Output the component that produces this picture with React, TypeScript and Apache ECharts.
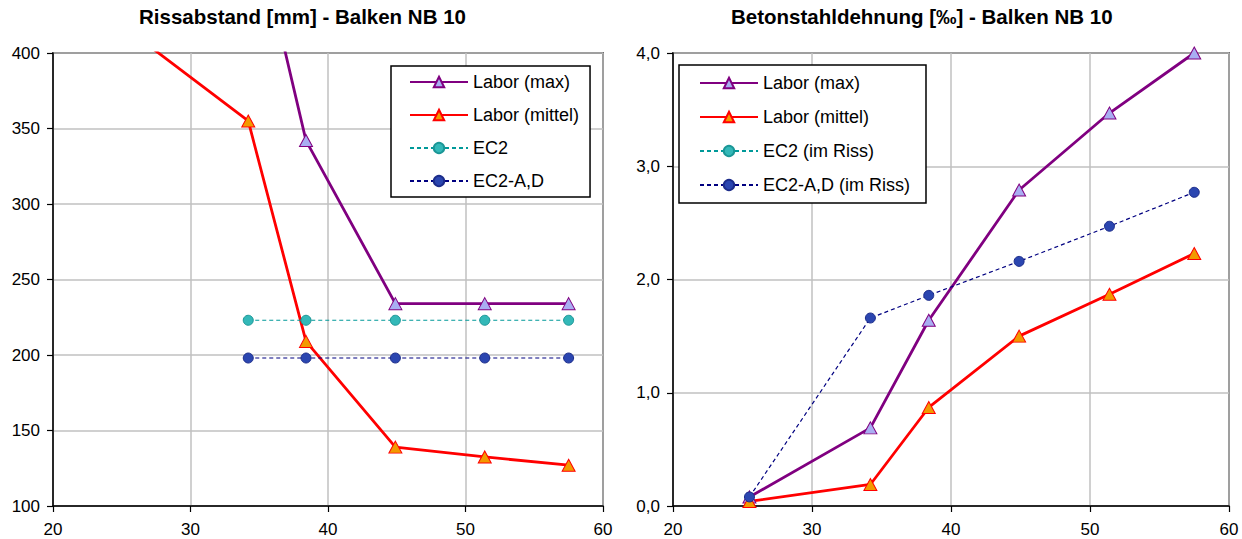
import React, { useEffect, useRef } from "react";
import * as echarts from "echarts";

// ---- data ----
const xPositions = [25.5, 34.2, 38.4, 44.9, 51.4, 57.5];
const xTicks = [20, 30, 40, 50, 60];

// Rissabstand [mm]
const laborMaxSpacing: (number | null)[] = [null, 505, 342, 234, 234, 234];
const laborMittelSpacing: (number | null)[] = [415, 355, 209, 139, 132.5, 127];
const ec2Spacing: (number | null)[] = [null, 223, 223, 223, 223, 223];
const ec2adSpacing: (number | null)[] = [null, 198, 198, 198, 198, 198];

// Betonstahldehnung [‰]
const laborMaxStrain: (number | null)[] = [0.08, 0.69, 1.64, 2.79, 3.47, 4.0];
const laborMittelStrain: (number | null)[] = [0.04, 0.19, 0.87, 1.5, 1.87, 2.23];
const ec2Strain: (number | null)[] = [null, null, null, null, null, null];
const ec2adStrain: (number | null)[] = [0.08, 1.66, 1.86, 2.16, 2.47, 2.77];

const leftLegend = ["Labor (max)", "Labor (mittel)", "EC2", "EC2-A,D"];
const rightLegend = ["Labor (max)", "Labor (mittel)", "EC2 (im Riss)", "EC2-A,D (im Riss)"];

const FONT = "'Liberation Sans', Arial, sans-serif";

function pairs(ys: (number | null)[]) {
  const out: number[][] = [];
  xPositions.forEach((x, i) => {
    const y = ys[i];
    if (y !== null && y !== undefined) out.push([x, y]);
  });
  return out;
}

const styles = {
  max: {
    symbol: "triangle",
    symbolSize: [13, 12],
    lineStyle: { color: "#800080", width: 2.8, type: "solid" },
    itemStyle: { color: "#a9aef2", borderColor: "#800080", borderWidth: 1 },
  },
  mittel: {
    symbol: "triangle",
    symbolSize: [13, 12],
    lineStyle: { color: "#ff0000", width: 2.8, type: "solid" },
    itemStyle: { color: "#f29a00", borderColor: "#ff0000", borderWidth: 1 },
  },
  ec2: {
    symbol: "circle",
    symbolSize: 10,
    lineStyle: { color: "#009999", width: 1.2, type: [4, 3] },
    itemStyle: { color: "#33b8b8", borderColor: "#1a9696", borderWidth: 1 },
  },
  ec2ad: {
    symbol: "circle",
    symbolSize: 10,
    lineStyle: { color: "#000080", width: 1.2, type: [4, 3] },
    itemStyle: { color: "#2b46b0", borderColor: "#1c2c8a", borderWidth: 1 },
  },
};

function mkSeries(name: string, data: number[][], st: any, idx: number) {
  return {
    name,
    type: "line",
    xAxisIndex: idx,
    yAxisIndex: idx,
    data,
    clip: true,
    showSymbol: true,
    symbol: st.symbol,
    symbolSize: st.symbolSize,
    lineStyle: st.lineStyle,
    itemStyle: st.itemStyle,
    emphasis: { disabled: true },
  };
}

function xAxis(gridIndex: number) {
  return {
    type: "value",
    gridIndex,
    min: xTicks[0],
    max: xTicks[xTicks.length - 1],
    interval: 10,
    axisLine: { show: true, onZero: false, lineStyle: { color: "#000", width: 1.5 } },
    axisTick: { show: true, length: 6, lineStyle: { color: "#000", width: 1.2 } },
    axisLabel: { color: "#000", fontSize: 17, fontFamily: FONT, margin: 15 },
    splitLine: { show: true, lineStyle: { color: "#c0c0c0", width: 1.5 } },
  };
}

function yAxis(gridIndex: number, min: number, max: number, interval: number, fmt?: (v: number) => string) {
  return {
    type: "value",
    gridIndex,
    min,
    max,
    interval,
    axisLine: { show: true, onZero: false, lineStyle: { color: "#000", width: 1.5 } },
    axisTick: { show: true, length: 6, lineStyle: { color: "#000", width: 1.2 } },
    axisLabel: { color: "#000", fontSize: 17, fontFamily: FONT, margin: 13, formatter: fmt },
    splitLine: { show: true, lineStyle: { color: "#c0c0c0", width: 1.5 } },
  };
}

function legend(data: string[], left: number, top: number, padding: number[], itemGap: number) {
  return {
    data,
    orient: "vertical",
    left,
    top,
    padding,
    itemGap,
    itemWidth: 58,
    itemHeight: 13,
    backgroundColor: "#fff",
    borderColor: "#000",
    borderWidth: 1.5,
    borderRadius: 0,
    selectedMode: false,
    textStyle: { color: "#000", fontSize: 18, fontFamily: FONT },
  };
}

export default function App() {
  const ref = useRef<HTMLDivElement>(null);
  useEffect(() => {
    if (!ref.current) return;
    const chart = echarts.init(ref.current, undefined, { renderer: "svg" });
    chart.setOption({
      animation: false,
      backgroundColor: "#fff",
      title: [
        {
          text: "Rissabstand [mm] - Balken NB 10",
          left: 139,
          top: 6,
          padding: 0,
          textStyle: { fontSize: 20.5, fontWeight: "bold", color: "#000", fontFamily: FONT },
        },
        {
          text: "Betonstahldehnung [‰] - Balken NB 10",
          left: 731,
          top: 6,
          padding: 0,
          textStyle: { fontSize: 20.5, fontWeight: "bold", color: "#000", fontFamily: FONT },
        },
      ],
      grid: [
        { left: 53, right: 639, top: 53, bottom: 33, show: true, borderColor: "#000", borderWidth: 1.5, backgroundColor: "transparent" },
        { left: 673, right: 13, top: 53, bottom: 33, show: true, borderColor: "#000", borderWidth: 1.5, backgroundColor: "transparent" },
      ],
      xAxis: [xAxis(0), xAxis(1)],
      yAxis: [
        yAxis(0, 100, 400, 50),
        yAxis(1, 0, 4, 1, (v: number) => v.toFixed(1).replace(".", ",")),
      ],
      legend: [
        legend(leftLegend, 391, 66, [7, 11, 7, 18], 15),
        legend(rightLegend, 679, 65, [9, 16, 9, 20], 16),
      ],
      series: [
        mkSeries(leftLegend[0], pairs(laborMaxSpacing), styles.max, 0),
        mkSeries(leftLegend[1], pairs(laborMittelSpacing), styles.mittel, 0),
        mkSeries(leftLegend[2], pairs(ec2Spacing), styles.ec2, 0),
        mkSeries(leftLegend[3], pairs(ec2adSpacing), styles.ec2ad, 0),
        mkSeries(rightLegend[0], pairs(laborMaxStrain), styles.max, 1),
        mkSeries(rightLegend[1], pairs(laborMittelStrain), styles.mittel, 1),
        mkSeries(rightLegend[2], pairs(ec2Strain), styles.ec2, 1),
        mkSeries(rightLegend[3], pairs(ec2adStrain), styles.ec2ad, 1),
      ],
    });
    return () => chart.dispose();
  }, []);
  return (
    <div
      ref={ref}
      style={{ position: "absolute", left: 0, top: 0, width: 1242, height: 539, background: "#fff" }}
    />
  );
}
